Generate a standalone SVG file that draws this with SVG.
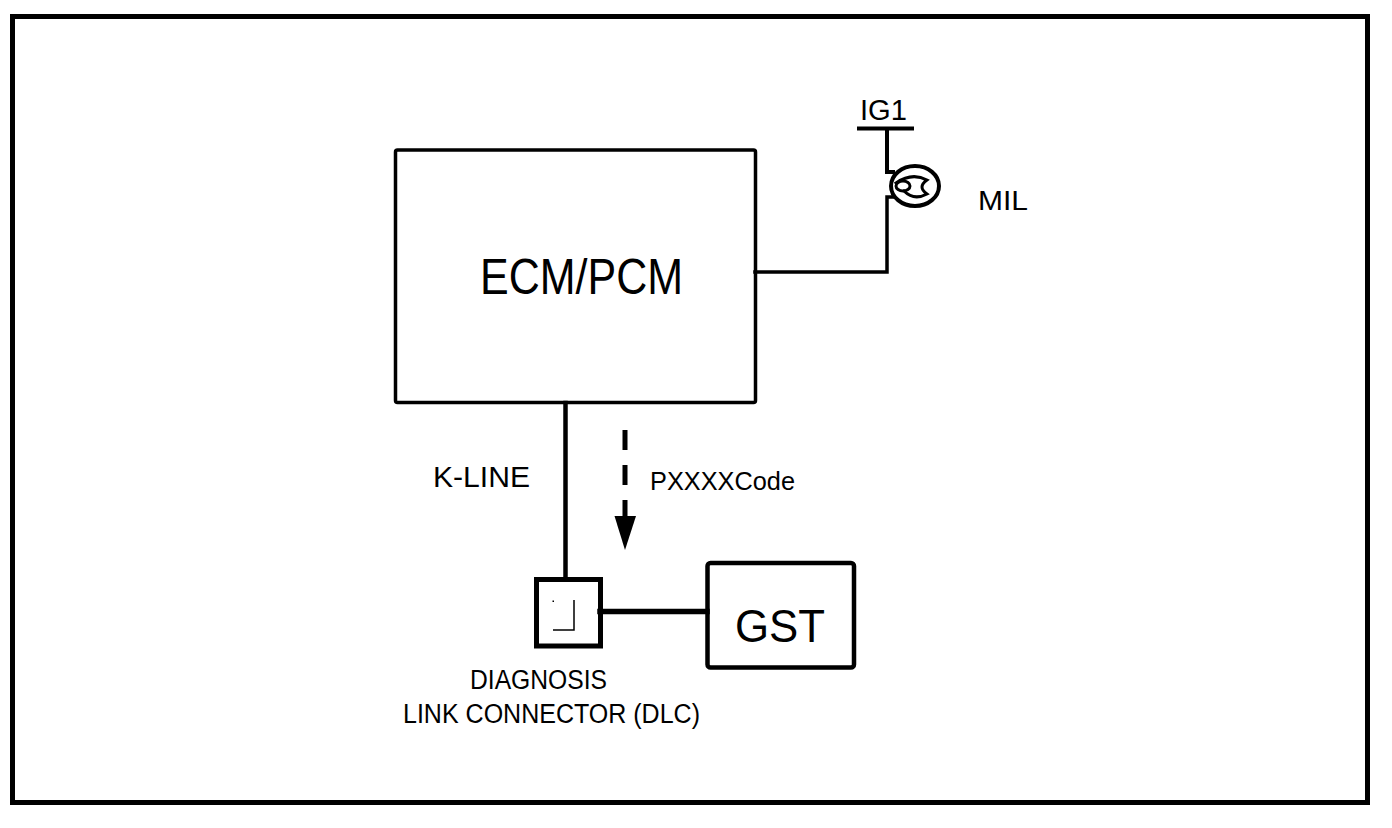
<svg xmlns="http://www.w3.org/2000/svg" width="1392" height="828" viewBox="0 0 1392 828">
<style>
.ln{fill:none;stroke:#000;stroke-linecap:square}
.t{font-family:"Liberation Sans",Arial,sans-serif;fill:#000}
</style>
<rect x="0" y="0" width="1392" height="828" fill="#fff"/>
<rect x="12.5" y="16.5" width="1355" height="786" class="ln" stroke-width="5"/>
<g id="connectors">
  <polyline class="ln" stroke-width="3.5" points="755,272 887,272 887,197 893,197"/>
  <polyline class="ln" stroke-width="4" points="887,129 887,172 893,172"/>
  <line class="ln" x1="859" y1="128.5" x2="912" y2="128.5" stroke-width="4" stroke-linecap="butt"/>
  <line class="ln" x1="565.5" y1="403" x2="565.5" y2="579" stroke-width="4.5" stroke-linecap="butt"/>
  <line class="ln" x1="600" y1="611.5" x2="707" y2="611.5" stroke-width="5.5" stroke-linecap="butt"/>
  <line x1="625" y1="430" x2="625" y2="517" stroke="#000" stroke-width="5" stroke-dasharray="20 15"/>
  <polygon points="614.5,516 636,516 625,550" fill="#000"/>
</g>
<g id="ecm">
  <rect x="395.5" y="150" width="360" height="252.5" class="ln" stroke-width="3.5" rx="2"/>
  <text class="t" x="480" y="294" font-size="50" textLength="203" lengthAdjust="spacingAndGlyphs">ECM/PCM</text>
</g>
<g id="ig1">
  <text class="t" x="860" y="120" font-size="30" textLength="47" lengthAdjust="spacingAndGlyphs">IG1</text>
</g>
<g id="mil">
  <ellipse cx="915" cy="186" rx="24" ry="20" class="ln" stroke-width="4"/>
  <ellipse cx="903" cy="186" rx="7" ry="5" class="ln" stroke-width="3"/>
  <path d="M896 183 Q912 172 927 180 Q917 187 927 194 Q914 201 904 191" class="ln" stroke-width="3"/>
  <text class="t" x="978" y="210" font-size="27" textLength="50" lengthAdjust="spacingAndGlyphs">MIL</text>
</g>
<g id="kline">
  <text class="t" x="433" y="487" font-size="30" textLength="97" lengthAdjust="spacingAndGlyphs">K-LINE</text>
</g>
<g id="code">
  <text class="t" x="650" y="490" font-size="25" textLength="145" lengthAdjust="spacingAndGlyphs">PXXXXCode</text>
</g>
<g id="dlc">
  <rect x="536.5" y="579.5" width="64" height="66.5" class="ln" stroke-width="5"/>
  <polyline points="574,600 574,630 553,630" fill="none" stroke="#000" stroke-width="1.5"/>
  <rect x="552.5" y="600.5" width="1.5" height="1.5" fill="#000"/>
  <text class="t" x="470" y="689" font-size="27" textLength="137" lengthAdjust="spacingAndGlyphs">DIAGNOSIS</text>
  <text class="t" x="403" y="723" font-size="27" textLength="297" lengthAdjust="spacingAndGlyphs">LINK CONNECTOR (DLC)</text>
</g>
<g id="gst">
  <rect x="707.5" y="563" width="146.5" height="104.5" class="ln" stroke-width="4.5" rx="3"/>
  <text class="t" x="735" y="642" font-size="47" textLength="90" lengthAdjust="spacingAndGlyphs">GST</text>
</g>
</svg>
